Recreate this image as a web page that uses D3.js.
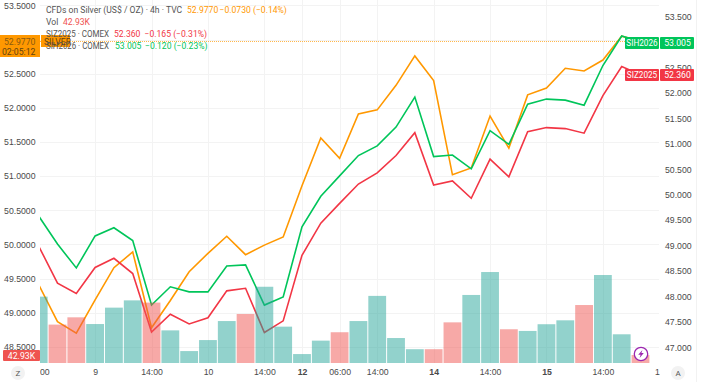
<!DOCTYPE html>
<html>
<head>
<meta charset="utf-8">
<script src="https://d3js.org/d3.v7.min.js"></script>
<style>
body { margin: 0; background: #fff; }
svg { display: block; font-family: Roboto, sans-serif; }
.axis text { font-size: 8.7px; fill: #4a4a4a; }
.axis path, .axis line { display: none; }
.legend { font-size: 8.6px; }
</style>
</head>
<body>
<svg width="701" height="382"></svg>
<script>
// CFD silver, left axis
const silver = [49.41, 48.87, 48.70, 49.19, 49.66, 49.89, 48.78, 49.18, 49.60, 49.87, 50.12, 49.85, 49.99, 50.11, 50.86, 51.56, 51.26, 51.91, 51.97, 52.33, 52.76, 52.40, 51.02, 51.12, 51.88, 51.41, 52.19, 52.29, 52.58, 52.54, 52.70, 53.05, 52.977];
// futures, right axis
const siz2025 = [48.99, 48.26, 48.06, 48.57, 48.75, 48.45, 47.30, 47.65, 47.46, 47.58, 48.11, 48.16, 47.29, 47.52, 48.81, 49.44, 49.83, 50.21, 50.43, 50.77, 51.22, 50.19, 50.27, 49.93, 50.70, 50.35, 51.24, 51.32, 51.30, 51.21, 51.95, 52.52, 52.36];
const sih2026 = [49.58, 49.03, 48.56, 49.19, 49.35, 49.10, 47.83, 48.19, 48.09, 48.09, 48.60, 48.62, 47.83, 47.99, 49.37, 49.97, 50.37, 50.77, 50.96, 51.33, 51.92, 50.75, 50.78, 50.51, 51.26, 50.99, 51.78, 51.88, 51.86, 51.76, 52.54, 53.12, 53.005];
// volume in K, and whether the bar is a down bar
const volume = [356, 206, 245, 209, 297, 336, 324, 175, 64, 123, 225, 263, 409, 195, 48, 120, 165, 225, 360, 134, 74, 74, 218, 365, 488, 181, 172, 208, 229, 311, 472, 154, 42.93];
const volumeDown = [0, 1, 1, 0, 0, 0, 1, 0, 0, 0, 0, 1, 0, 0, 0, 0, 1, 0, 0, 0, 0, 1, 1, 0, 0, 1, 0, 0, 0, 1, 0, 0, 1];

const timeIndex = [0, 3, 6, 9, 12, 14, 16, 18, 21, 24, 27, 30, 33];
const timeLabels = ["00", "9", "14:00", "10", "14:00", "12", "06:00", "14:00", "14", "14:00", "15", "14:00", "1"];
const boldIndex = [14, 21, 27];
const leftTicks = [53.5, 52.5, 52, 51.5, 51, 50.5, 50, 49.5, 49, 48.5];
const gridTicks = [53.5, 53, 52.5, 52, 51.5, 51, 50.5, 50, 49.5, 49, 48.5];
const rightTicks = [53.5, 52.5, 52, 51.5, 51, 50.5, 50, 49.5, 49, 48.5, 48, 47.5, 47];

const orange = "#ff9800", red = "#f23645", green = "#00c55a";

const svg = d3.select("svg");

const plotLeft = 40, plotRight = 659;

const x = d3.scaleLinear().domain([1, 31]).range([57.5, 621.7]);
const yLeft = d3.scaleLinear().domain([52.5, 48.5]).range([73.7, 346.9]);
const yRight = d3.scaleLinear().domain([53.5, 47]).range([16.7, 347.3]);
const yVol = d3.scaleLinear().domain([0, 500]).range([363, 269.8]);

svg.append("defs").append("clipPath").attr("id", "plot")
    .append("rect").attr("x", plotLeft).attr("y", 0).attr("width", plotRight - plotLeft).attr("height", 363);
svg.append("defs").append("clipPath").attr("id", "timeClip")
    .append("rect").attr("x", plotLeft).attr("y", 363).attr("width", 660).attr("height", 19);

// grid
svg.append("g").selectAll("line").data(gridTicks).enter().append("line")
    .attr("x1", plotLeft).attr("x2", plotRight)
    .attr("y1", d => Math.round(yLeft(d)) + 0.5).attr("y2", d => Math.round(yLeft(d)) + 0.5)
    .attr("stroke", "#f3f3f3");
svg.append("g").selectAll("line").data(timeIndex.slice(1, -1)).enter().append("line")
    .attr("x1", d => Math.round(x(d)) + 0.5).attr("x2", d => Math.round(x(d)) + 0.5)
    .attr("y1", 0).attr("y2", 363)
    .attr("stroke", "#f3f3f3");
svg.append("line").attr("x1", 696.5).attr("x2", 696.5).attr("y1", 0).attr("y2", 382).attr("stroke", "#f2f2f2");

const plot = svg.append("g").attr("clip-path", "url(#plot)");

// price line of the CFD
plot.append("line")
    .attr("x1", plotLeft).attr("x2", plotRight)
    .attr("y1", Math.round(yLeft(52.977)) + 0.5).attr("y2", Math.round(yLeft(52.977)) + 0.5)
    .attr("stroke", orange).attr("stroke-opacity", 0.7).attr("stroke-dasharray", "1 1");

function addLine(values, y, color) {
    const line = d3.line().x((d, i) => x(i)).y(d => y(d));
    plot.append("path").datum(values)
        .attr("fill", "none")
        .attr("stroke", color)
        .attr("stroke-width", 1.6)
        .attr("stroke-linejoin", "miter")
        .attr("d", line);
}
addLine(silver, yLeft, orange);
addLine(sih2026, yRight, green);
addLine(siz2025, yRight, red);

// volume bars sit over the lines
plot.append("g").selectAll("rect").data(volume).enter().append("rect")
    .attr("x", (d, i) => x(i) - 8.9)
    .attr("width", 17.8)
    .attr("y", d => yVol(d))
    .attr("height", d => 363 - yVol(d))
    .attr("fill", (d, i) => volumeDown[i] ? "#ef5350" : "#26a69a")
    .attr("fill-opacity", 0.5);

// axes
svg.append("g").attr("class", "axis")
    .attr("transform", "translate(35.5,0)")
    .call(d3.axisLeft(yLeft).tickValues(leftTicks).tickFormat(d3.format(".4f")).tickSize(0).tickPadding(0));

svg.append("g").attr("class", "axis")
    .attr("transform", "translate(665,0)")
    .call(d3.axisRight(yRight).tickValues(rightTicks).tickFormat(d3.format(".3f")).tickSize(0).tickPadding(0));

const timeAxis = svg.append("g").attr("class", "axis")
    .attr("clip-path", "url(#timeClip)")
    .append("g")
    .attr("transform", "translate(0,366)")
    .call(d3.axisBottom(x).tickValues(timeIndex)
        .tickFormat(d => timeLabels[timeIndex.indexOf(d)]).tickSize(0).tickPadding(3));
timeAxis.selectAll("text")
    .style("font-weight", d => boldIndex.includes(d) ? 600 : 400)
    .attr("dx", d => d === 0 ? 5.6 : d === 33 ? -2.5 : 0);

// legend rows, each part with its own start
const legendRows = [
    { y: 13, parts: [[46, "CFDs on Silver (US$ / OZ) · 4h · TVC", "#555"], [187, "52.9770", orange], [219.5, "−0.0730 (−0.14%)", orange]] },
    { y: 25, parts: [[46, "Vol", "#555"], [63, "42.93K", "#ef5350"]] },
    { y: 37, parts: [[46, "SIZ2025 · COMEX", "#555"], [114, "52.360", red], [144.5, "−0.165 (−0.31%)", red]] },
    { y: 49, parts: [[46, "SIH2026 · COMEX", "#555"], [115, "53.005", green], [145, "−0.120 (−0.23%)", green]] }
];

// left price badge, drawn before the legend text that overlaps it
svg.append("rect").attr("x", 0).attr("y", 35).attr("width", 40).attr("height", 22).attr("fill", orange);
svg.append("rect").attr("x", 41).attr("y", 35).attr("width", 29).attr("height", 12).attr("fill", orange);
svg.append("text").attr("x", 35.5).attr("y", 44.5).attr("text-anchor", "end")
    .attr("font-size", 8.7).attr("fill", "#8a5a10").text("52.9770");
svg.append("text").attr("x", 35.5).attr("y", 54.5).attr("text-anchor", "end")
    .attr("font-size", 8.7).attr("fill", "#5f4210").text("02:05:12");
svg.append("text").attr("x", 44).attr("y", 44.5)
    .attr("font-size", 8.6).attr("fill", "#5f4210").text("SILVER");

legendRows.forEach(row => {
    row.parts.forEach(p => {
        const t = svg.append("text").attr("class", "legend").attr("x", p[0]).attr("y", row.y).attr("fill", p[2]).text(p[1]);
        // the contract names are squeezed to the reference width
        if (p[1].includes("COMEX")) t.attr("textLength", 63).attr("lengthAdjust", "spacingAndGlyphs");
    });
});

// end-of-line badges
function addBadge(y, name, value, color) {
    svg.append("rect").attr("x", 625).attr("y", y).attr("width", 34).attr("height", 12).attr("rx", 1).attr("fill", color);
    svg.append("rect").attr("x", 660).attr("y", y).attr("width", 34).attr("height", 12).attr("rx", 1).attr("fill", color);
    svg.append("text").attr("x", 642).attr("y", y + 9.2).attr("text-anchor", "middle")
        .attr("font-size", 8.2).attr("fill", "#fff").text(name);
    svg.append("text").attr("x", 677.5).attr("y", y + 9.2).attr("text-anchor", "middle")
        .attr("font-size", 8.7).attr("fill", "#fff").text(value);
}
addBadge(37, "SIH2026", "53.005", green);
addBadge(69, "SIZ2025", "52.360", red);

// volume badge
svg.append("rect").attr("x", 3).attr("y", 350).attr("width", 37).attr("height", 11).attr("rx", 1).attr("fill", "#ef5350");
svg.append("text").attr("x", 21.5).attr("y", 358.6).attr("text-anchor", "middle")
    .attr("font-size", 8.7).attr("fill", "#fff").text("42.93K");

// corner buttons
[[18, "Z"], [678, "A"]].forEach(b => {
    svg.append("circle").attr("cx", b[0]).attr("cy", 373).attr("r", 7).attr("fill", "#f2f2f2");
    svg.append("text").attr("x", b[0]).attr("y", 376).attr("text-anchor", "middle")
        .attr("font-size", 8).attr("fill", "#555").text(b[1]);
});

// lightning marker
const zap = svg.append("g").attr("transform", "translate(641,354)");
zap.append("circle").attr("r", 6.7).attr("fill", "#fff").attr("stroke", "#9c27b0").attr("stroke-width", 1.3);
zap.append("path").attr("d", "M1.4,-4 L-2.8,0.8 L-0.4,0.8 L-1.4,4 L2.8,-0.9 L0.4,-0.9 Z").attr("fill", "#9c27b0");
</script>
</body>
</html>
